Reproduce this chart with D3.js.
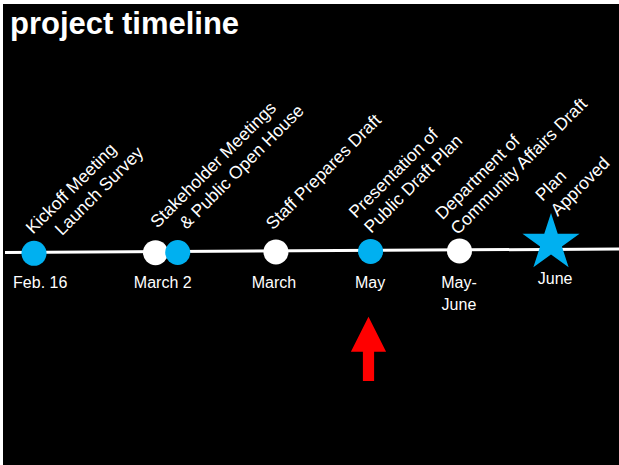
<!DOCTYPE html>
<html>
<head>
<meta charset="utf-8">
<script src="https://cdn.jsdelivr.net/npm/d3@7"></script>
<style>
	body { margin: 0; background: #ffffff; }
	svg { display: block; }
	text { font-family: Arial, "Liberation Sans", sans-serif; fill: #ffffff; }
</style>
</head>
<body>
<svg id="chart"></svg>
<script>

//timeline data - positions (0 = kickoff, 100 = plan approved)
var markerPos = [0, 23.5, 27.8, 46.8, 65.1, 82.3, 100];
var markerType = ["blue", "white", "blue", "white", "blue", "white", "star"];

var datePos = [1.2, 24.9, 46.4, 65, 82.2, 100.8];
var dateText = [["Feb. 16"], ["March 2"], ["March"], ["May"], ["May-", "June"], ["June"]];

//event labels hang off these markers (index into markerPos)
var eventMarker = [0, 1, 3, 4, 5, 6];
var eventText = [
	["Kickoff Meeting", "\u00a0\u00a0\u00a0\u00a0Launch Survey"],
	["Stakeholder Meetings", "\u00a0\u00a0\u00a0\u00a0& Public Open House"],
	["Staff Prepares Draft"],
	["Presentation of", "Public Draft Plan"],
	["Department of", "Community Affairs Draft"],
	["Plan", "Approved"]
];

var arrowPos = 64.7;

//layout stuff
var width = 619,
	height = 465,
	blue = "#00b0f0",
	fontSize = 16,
	eventFontSize = 17.5,
	lineHeight = 21.5,
	circleR = 12.5,
	starR = 30;

//nudges for the rotated labels (baseline start of first line, relative to marker)
var eventNudge = [[-1, -17.5], [2, -23], [-3, -20.5], [-14.5, -31.5], [-17, -29.5], [-8.5, -47.5]];

var svg = d3.select("#chart")
	.attr("width", width)
	.attr("height", height);

//black slide with a thin white edge top/left
svg.append("rect")
	.attr("x", 3)
	.attr("y", 4)
	.attr("width", width - 3)
	.attr("height", height - 4)
	.attr("fill", "#000000");

svg.append("text")
	.attr("x", 10)
	.attr("y", 34)
	.attr("font-size", "31px")
	.attr("font-weight", "bold")
	.text("project timeline");

var x = d3.scaleLinear()
	.domain([0, 100])
	.range([34, 551]);

//the timeline is drawn slightly tilted
var lineY = d3.scaleLinear()
	.domain([5, 619])
	.range([252.5, 249]);

svg.append("line")
	.attr("x1", 5)
	.attr("y1", lineY(5))
	.attr("x2", 619)
	.attr("y2", lineY(619))
	.attr("stroke", "#ffffff")
	.attr("stroke-width", 3);

var markers = markerPos.map(function(p, i){ return {pos: p, type: markerType[i]}; });

svg.selectAll(".marker")
	.data(markers.filter(function(d){ return d.type != "star"; }))
	.enter().append("circle")
	.attr("class", "marker")
	.attr("cx", function(d){ return x(d.pos); })
	.attr("cy", function(d){ return lineY(x(d.pos)) + 1; })
	.attr("r", circleR)
	.attr("fill", function(d){ return d.type == "blue" ? blue : "#ffffff"; });

//star for plan approved (d3 star size -> outer radius)
var star = d3.symbol().type(d3.symbolStar).size(starR * starR / 0.8908130915292852);

svg.selectAll(".star")
	.data(markers.filter(function(d){ return d.type == "star"; }))
	.enter().append("path")
	.attr("class", "star")
	.attr("d", star)
	.attr("fill", blue)
	.attr("transform", function(d){
		return "translate(" + x(d.pos) + "," + (lineY(x(d.pos)) - 6.4) + ")";
	});

//date labels under the line
var dates = svg.selectAll(".date")
	.data(datePos.map(function(p, i){ return {pos: p, lines: dateText[i]}; }))
	.enter().append("text")
	.attr("class", "date")
	.attr("text-anchor", "middle")
	.attr("font-size", fontSize + "px")
	.attr("y", function(d){ return d.pos > 100 ? 284 : 288; });

dates.selectAll("tspan")
	.data(function(d){ return d.lines.map(function(t){ return {t: t, pos: d.pos}; }); })
	.enter().append("tspan")
	.attr("x", function(d){ return x(d.pos); })
	.attr("dy", function(d, i){ return i == 0 ? 0 : 22; })
	.text(function(d){ return d.t; });

//rotated event labels
var events = svg.selectAll(".event")
	.data(eventText.map(function(t, i){ return {lines: t, pos: markerPos[eventMarker[i]], nudge: eventNudge[i]}; }))
	.enter().append("g")
	.attr("class", "event")
	.attr("transform", function(d){
		var px = x(d.pos);
		return "translate(" + (px + d.nudge[0]) + "," + (lineY(px) + d.nudge[1]) + ") rotate(-45)";
	});

events.append("text")
	.attr("font-size", eventFontSize + "px")
	.selectAll("tspan")
	.data(function(d){ return d.lines; })
	.enter().append("tspan")
	.attr("x", 0)
	.attr("dy", function(d, i){ return i == 0 ? 0 : lineHeight; })
	.text(function(d){ return d; });

//red arrow pointing up at the current milestone
var ax = x(arrowPos);
var arrow = d3.path();
arrow.moveTo(ax, 316.7);
arrow.lineTo(ax + 17.6, 351.7);
arrow.lineTo(ax + 5.6, 351.7);
arrow.lineTo(ax + 5.6, 381);
arrow.lineTo(ax - 5.6, 381);
arrow.lineTo(ax - 5.6, 351.7);
arrow.lineTo(ax - 17.6, 351.7);
arrow.closePath();

svg.append("path")
	.attr("d", arrow.toString())
	.attr("fill", "#ff0000");

</script>
</body>
</html>
